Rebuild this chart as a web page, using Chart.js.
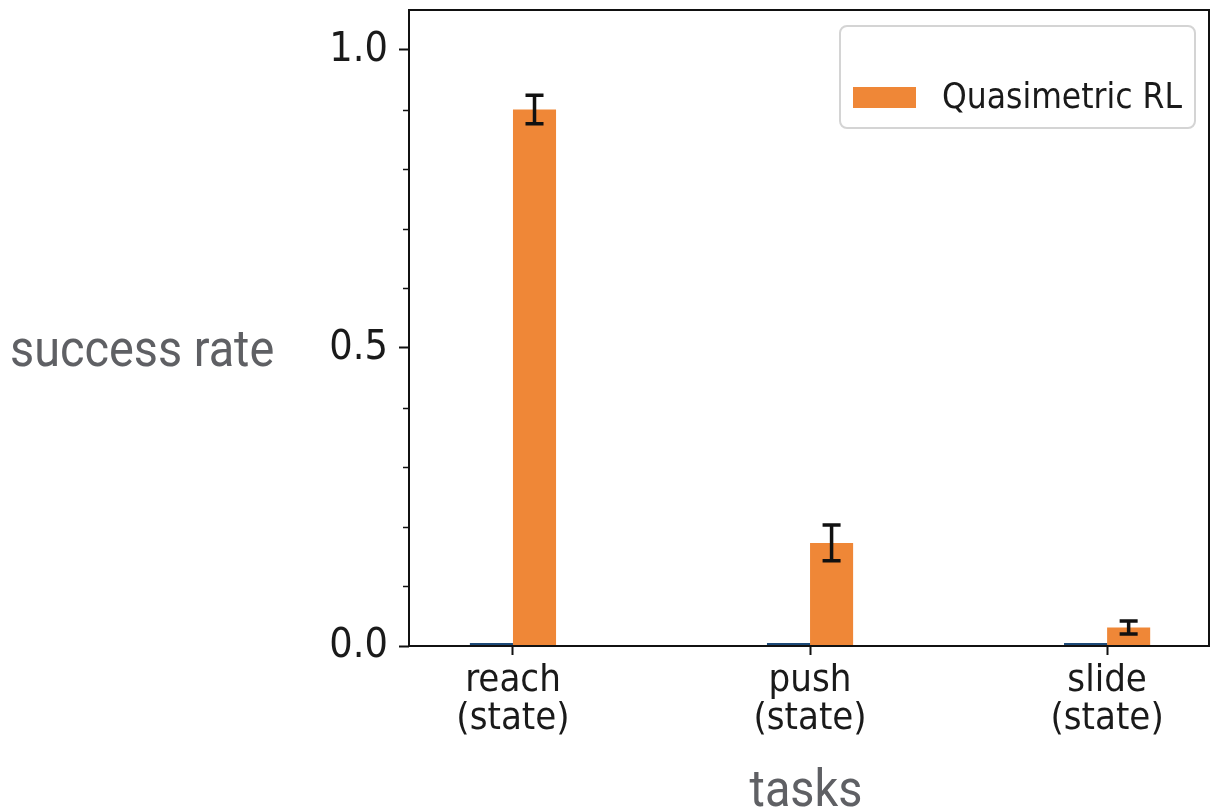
<!DOCTYPE html>
<html>
<head>
<meta charset="utf-8">
<script src="https://cdn.jsdelivr.net/npm/chart.js@4.4.0/dist/chart.umd.min.js"></script>
<style>
  html, body { margin: 0; padding: 0; background: #fff; }
  #wrap { position: relative; width: 1211px; height: 808px; }
</style>
</head>
<body>
<div id="wrap"><canvas id="taskChart"></canvas></div>
<script>
// values
var categories = [["reach", "(state)"], ["push", "(state)"], ["slide", "(state)"]];
var baselineRates = [0.005, 0.005, 0.005];
var qrlRates = [0.9, 0.173, 0.031];
var qrlErrors = [0.024, 0.030, 0.011];
var yMajorTicks = [0, 0.5, 1.0];
var yMinorTicks = [0.1, 0.2, 0.3, 0.4, 0.6, 0.7, 0.8, 0.9];
var seriesLabels = ["baseline", "Quasimetric RL"];
var axisTitles = { x: "tasks", y: "success rate" };

var tickFont = '"DejaVu Sans Condensed", "DejaVu Sans", sans-serif';
var titleFont = 'Roboto, "Noto Sans", sans-serif';
var orange = "#ef8737";
var blue = "#1d4a78";

var points = function (values) {
  return values.map(function (v, i) { return { x: i, y: v }; });
};

var noPad = function (scale) {
  scale.paddingTop = 0;
  scale.paddingBottom = 0;
  scale.paddingLeft = 0;
  scale.paddingRight = 0;
};

var decorations = {
  id: "decorations",
  afterDatasetsDraw: function (chart) {
    var ctx = chart.ctx;
    var y = chart.scales.y;
    var meta = chart.getDatasetMeta(1);
    ctx.save();
    ctx.strokeStyle = "#111";
    ctx.lineWidth = 3.5;
    meta.data.forEach(function (bar, i) {
      var top = y.getPixelForValue(qrlRates[i] + qrlErrors[i]);
      var bottom = y.getPixelForValue(qrlRates[i] - qrlErrors[i]);
      ctx.beginPath();
      ctx.moveTo(bar.x, top);
      ctx.lineTo(bar.x, bottom);
      ctx.moveTo(bar.x - 9, top);
      ctx.lineTo(bar.x + 9, top);
      ctx.moveTo(bar.x - 9, bottom);
      ctx.lineTo(bar.x + 9, bottom);
      ctx.stroke();
    });
    ctx.restore();
  },
  afterDraw: function (chart) {
    var ctx = chart.ctx;
    var area = chart.chartArea;
    var y = chart.scales.y;
    ctx.save();

    // frame
    ctx.strokeStyle = "#111";
    ctx.lineWidth = 2;
    ctx.strokeRect(area.left, area.top, area.right - area.left, area.bottom - area.top);

    // minor ticks
    ctx.lineWidth = 1.5;
    yMinorTicks.forEach(function (v) {
      var py = Math.round(y.getPixelForValue(v)) + 0.5;
      ctx.beginPath();
      ctx.moveTo(area.left - 6, py);
      ctx.lineTo(area.left, py);
      ctx.stroke();
    });

    // legend
    var lx = area.right - 369, ly = area.top + 16, lw = 355, lh = 102;
    ctx.fillStyle = "rgba(255,255,255,0.8)";
    ctx.strokeStyle = "#d4d4d4";
    ctx.lineWidth = 2;
    ctx.beginPath();
    ctx.roundRect(lx, ly, lw, lh, 7);
    ctx.fill();
    ctx.stroke();
    ctx.fillStyle = orange;
    ctx.fillRect(lx + 13, ly + 61, 63, 21);
    ctx.fillStyle = "#1a1a1a";
    ctx.font = "35px " + tickFont;
    ctx.textBaseline = "alphabetic";
    ctx.textAlign = "left";
    ctx.fillText(seriesLabels[1], lx + 102, ly + 82);

    // axis titles
    ctx.fillStyle = "#5f6064";
    ctx.font = "52px " + titleFont;
    ctx.save();
    ctx.translate(10, 366);
    ctx.scale(0.9, 1);
    ctx.fillText(axisTitles.y, 0, 0);
    ctx.restore();
    ctx.save();
    ctx.translate((area.left + area.right) / 2 - 3, 806);
    ctx.scale(0.9, 1);
    ctx.textAlign = "center";
    ctx.fillText(axisTitles.x, 0, 0);
    ctx.restore();

    ctx.restore();
  }
};

var ctx = document.getElementById("taskChart");
var chart = new Chart(ctx, {
  type: "bar",
  data: {
    datasets: [{
      label: seriesLabels[0],
      data: points(baselineRates),
      backgroundColor: blue,
      categoryPercentage: 0.29,
      barPercentage: 1.0
    }, {
      label: seriesLabels[1],
      data: points(qrlRates),
      backgroundColor: orange,
      categoryPercentage: 0.29,
      barPercentage: 1.0
    }]
  },
  options: {
    responsive: true,
    maintainAspectRatio: false,
    animation: false,
    layout: { padding: { top: 10, right: 2, bottom: 0, left: 0 } },
    plugins: {
      legend: { display: false },
      tooltip: { enabled: false }
    },
    scales: {
      x: {
        type: "linear",
        min: -0.35,
        max: 2.343,
        offset: false,
        afterBuildTicks: function (scale) {
          scale.ticks = categories.map(function (c, i) { return { value: i }; });
        },
        afterFit: function (scale) { scale.height = 162; noPad(scale); },
        grid: { display: true, drawOnChartArea: false, offset: false, tickLength: 9, tickWidth: 2, tickColor: "#111" },
        border: { display: false },
        ticks: {
          autoSkip: false,
          maxRotation: 0,
          padding: 8,
          color: "#1a1a1a",
          font: { family: tickFont, size: 38, lineHeight: 0.98 },
          callback: function (value) { return categories[value]; }
        }
      },
      y: {
        min: 0,
        max: 1.067,
        afterBuildTicks: function (scale) {
          scale.ticks = yMajorTicks.map(function (v) { return { value: v }; });
        },
        afterFit: function (scale) { scale.width = 409; noPad(scale); },
        grid: { display: true, drawOnChartArea: false, tickLength: 10, tickWidth: 2, tickColor: "#111" },
        border: { display: false },
        ticks: {
          padding: 11,
          color: "#1a1a1a",
          font: { family: tickFont, size: 41 },
          callback: function (value) { return value.toFixed(1); }
        }
      }
    }
  },
  plugins: [decorations]
});
</script>
</body>
</html>
